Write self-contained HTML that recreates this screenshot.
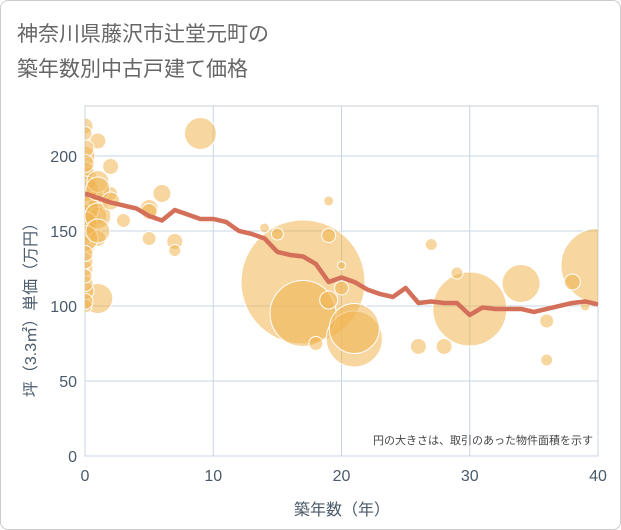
<!DOCTYPE html>
<html><head><meta charset="utf-8"><style>
body{margin:0;background:#fff;font-family:"Liberation Sans","Noto Sans CJK JP",sans-serif;}
#wrap{position:relative;width:619px;height:528px;border:1px solid #ccc;border-radius:8px;overflow:hidden;background:#fff}
</style></head><body>
<div id="wrap">
<svg id="c" width="621" height="530"></svg>
</div>
<script>
const years=[0,1,2,3,4,5,6,7,8,9,10,11,12,13,14,15,16,17,18,19,20,21,22,23,24,25,26,27,28,29,30,31,32,33,34,35,36,37,38,39,40];
const avgPrice=[175,172,169,167,165,160,157,164,161,158,158,156,150,148,145,136,134,133,128,116,119,116,111,108,106,112,102,103,102,102,94,99,98,98,98,96,98,100,102,103,101];
const bubX=[17,17,21,21,30,40,34,9,1,6,0,0,0,0,0,0,0,0,0,0,0,1,1,1,1,2,2,5,5,7,7,3,19,19,20,27,26,28,18,36,36,38,19,14,15,39,20,29,0,0,0,0,0,0,1,1,1,0,0,0,1,2,0,0,5,0];
const bubY=[116,95,78,85,98,127,115,215,105,175,220,200,185,170,160,150,140,125,110,100,190,210,170,160,145,193,175,165,145,143,137,157,170,147,127,141,73,73,75,90,64,116,104,152,148,100,112,122,130,205,178,165,155,145,183,178,160,195,215,135,150,170,115,120,163,103];
const bubR=[62,33,28,25,37,37,19,16,15,9,8,10,12,14,12,11,10,8,9,7,9,8,10,9,8,8,7,9,7,8,6,7,5,7,4,6,8,8,7,7,6,8,9,5,6,5,7,6,8,9,13,14,12,13,11,12,13,9,7,8,12,9,8,7,8,8];
const xTicks=[0,10,20,30,40];
const yTicks=[0,50,100,150,200];
const NS="http://www.w3.org/2000/svg";
const svg=document.getElementById('c');
const X0=84,X1=597,Y0=455,Y1=105;
const xs=v=>X0+(v/40)*(X1-X0);
const ys=v=>Y0-(v/233.3)*(Y0-Y1);
function el(t,a,p){const e=document.createElementNS(NS,t);for(const k in a)e.setAttribute(k,a[k]);(p||svg).appendChild(e);return e;}
const title=el('text',{x:16,y:40,'font-size':21,fill:'#666'});


title.textContent='神奈川県藤沢市辻堂元町の';
const t2=el('text',{x:16,y:75,'font-size':21,fill:'#666'});


t2.textContent='築年数別中古戸建て価格';
const clip=el('clipPath',{id:'pc'});el('rect',{x:X0,y:Y1,width:X1-X0,height:Y0-Y1},clip);
el('rect',{x:X0,y:Y1,width:X1-X0,height:Y0-Y1,fill:'#fff',stroke:'#ccc'});
xTicks.forEach(v=>{const g=el('line',{x1:xs(v),x2:xs(v),y1:Y1,y2:Y0,stroke:'#c8d4e3'});

const t=el('text',{x:xs(v),y:Y0+25,'font-size':16,fill:'#4a5a6a','text-anchor':'middle'});
t.textContent=v;});
yTicks.forEach(v=>{const g=el('line',{x1:X0,x2:X1,y1:ys(v),y2:ys(v),stroke:'#c8d4e3'});

const t=el('text',{x:X0-8,y:ys(v)+6,'font-size':16,fill:'#4a5a6a','text-anchor':'end'});
t.textContent=v;});
const gb=el('g',{'clip-path':'url(#pc)'});
bubX.forEach((v,i)=>{const c=el('circle',{cx:xs(v),cy:ys(bubY[i]),r:bubR[i],fill:'rgba(240,180,80,0.55)',stroke:'#fff','stroke-width':1},gb);
});
const pl=el('polyline',{points:years.map((v,i)=>xs(v)+','+ys(avgPrice[i])).join(' '),fill:'none',stroke:'#d4705a','stroke-width':4.5,'stroke-linejoin':'round'},gb);

const xl=el('text',{x:341,y:514,'font-size':16,fill:'#4a5a6a','text-anchor':'middle'});
xl.textContent='築年数（年）';
const yl=el('text',{x:0,y:0,'font-size':16,fill:'#4a5a6a','text-anchor':'middle',transform:'translate(35,305) rotate(-90)'});
yl.textContent='坪（3.3㎡）単価（万円）';
const note=el('text',{x:592,y:443,'font-size':11,fill:'#444','text-anchor':'end'});
note.textContent='円の大きさは、取引のあった物件面積を示す';
</script>
</body></html>
